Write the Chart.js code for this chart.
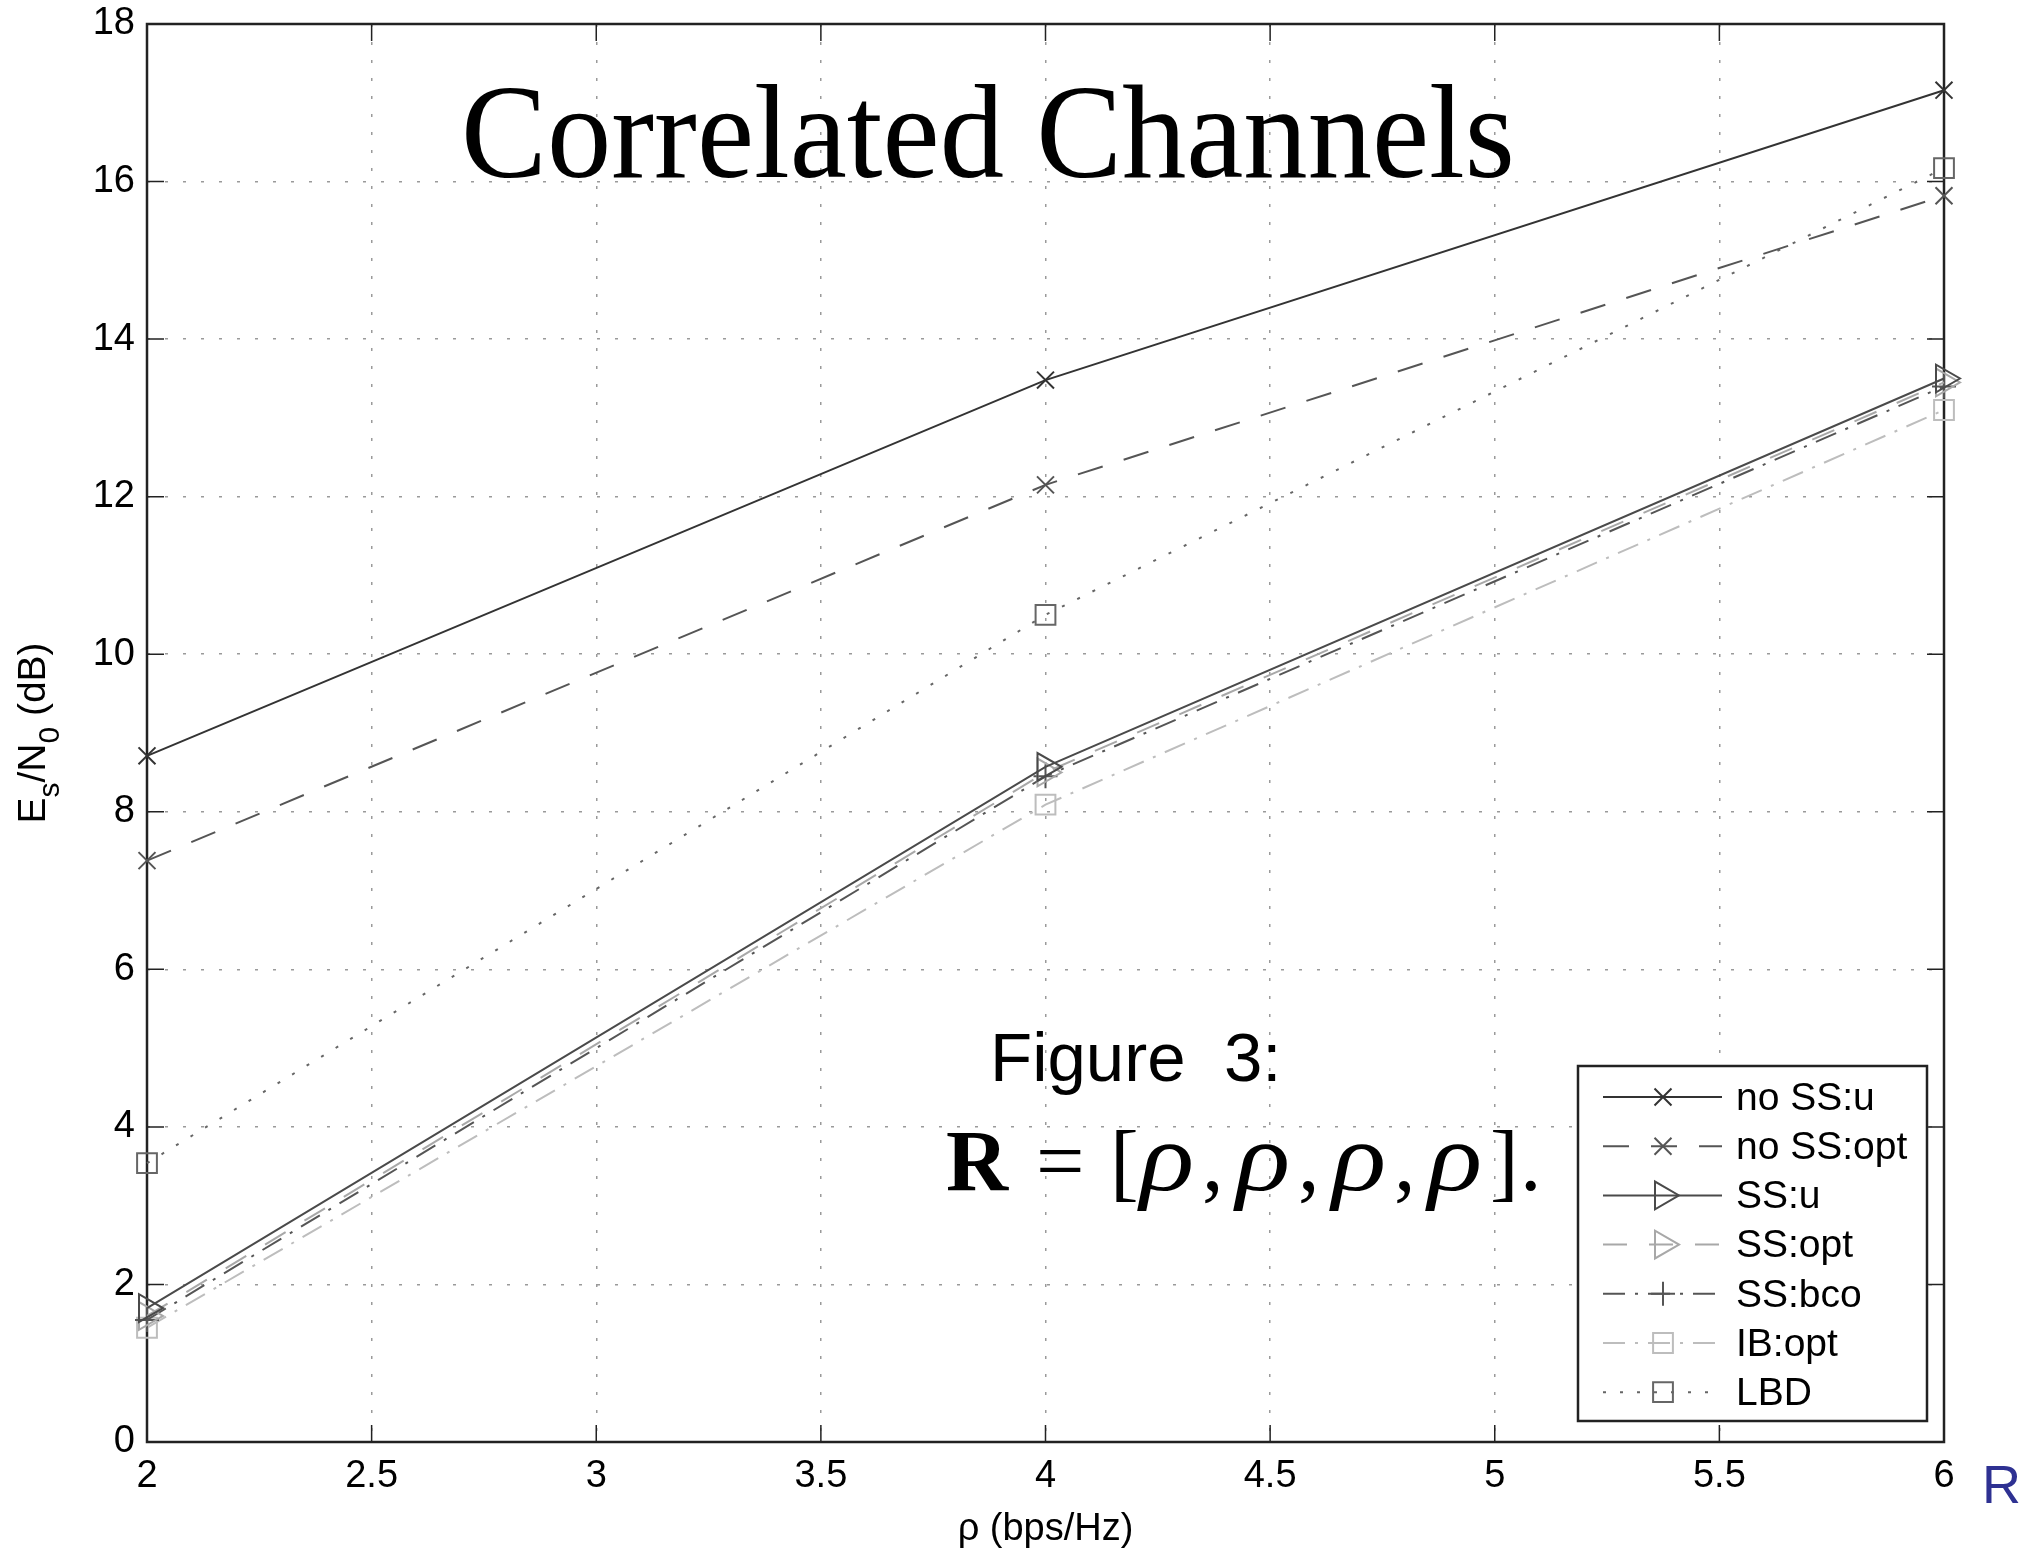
<!DOCTYPE html>
<html>
<head>
<meta charset="utf-8">
<script src="https://cdn.jsdelivr.net/npm/chart.js@4.4.0/dist/chart.umd.min.js"></script>
<style>
  html, body { margin: 0; padding: 0; background: #fff; }
  #wrap { width: 2031px; height: 1552px; }
</style>
</head>
<body>
<div id="wrap"><canvas id="myChart" width="2031" height="1552"></canvas></div>
<script>
// rate points (bps/Hz) and Es/N0 values (dB)
const rates = [2, 4, 6];
const noSSu = [8.71, 13.48, 17.16];
const noSSopt = [7.38, 12.15, 15.82];
const SSu = [1.70, 8.57, 13.50];
const SSopt = [1.60, 8.50, 13.45];
const SSbco = [1.55, 8.45, 13.40];
const IBopt = [1.45, 8.09, 13.10];
const LBD = [3.54, 10.50, 16.17];

const xTicks = [2, 2.5, 3, 3.5, 4, 4.5, 5, 5.5, 6];
const yTicks = [0, 2, 4, 6, 8, 10, 12, 14, 16, 18];

const SANS = '"Liberation Sans", Arial, sans-serif';
const SERIF = '"Liberation Serif", "Times New Roman", serif';

function pts(values) {
    return rates.map((x, i) => ({ x: x, y: values[i] }));
}

function series(label, values, color, dash, pointStyle, radius, rotation) {
    return {
        label: label,
        data: pts(values),
        borderColor: color,
        backgroundColor: color,
        borderWidth: 2,
        borderDash: dash,
        fill: false,
        tension: 0,
        clip: false,
        pointStyle: pointStyle,
        pointRadius: radius,
        pointRotation: rotation,
        pointBorderColor: color,
        pointBackgroundColor: 'rgba(0,0,0,0)',
        pointBorderWidth: 2,
        pointHoverRadius: radius
    };
}

const data = {
    datasets: [
        series('no SS:u', noSSu, '#333333', [], 'crossRot', 12, 0),
        series('no SS:opt', noSSopt, '#555555', [26, 22], 'crossRot', 12, 0),
        series('SS:u', SSu, '#4a4a4a', [], 'triangle', 16, 90),
        series('SS:opt', SSopt, '#a8a8a8', [24, 22], 'triangle', 16, 90),
        series('SS:bco', SSbco, '#555555', [22, 10, 3, 10], 'cross', 12, 0),
        series('IB:opt', IBopt, '#bdbdbd', [22, 10, 3, 10], 'rect', 14, 0),
        series('LBD', LBD, '#666666', [3, 14], 'rect', 14, 0)
    ]
};

// box, inner tick marks (matlab style)
const boxPlugin = {
    id: 'box',
    beforeDatasetsDraw(chart) {
        const { ctx, chartArea: a, scales } = chart;
        ctx.save();
        ctx.strokeStyle = '#222';
        ctx.lineWidth = 1.5;
        ctx.setLineDash([]);
        const tl = 17;
        ctx.beginPath();
        xTicks.forEach(v => {
            const px = scales.x.getPixelForValue(v);
            ctx.moveTo(px, a.bottom); ctx.lineTo(px, a.bottom - tl);
            ctx.moveTo(px, a.top); ctx.lineTo(px, a.top + tl);
        });
        yTicks.forEach(v => {
            const py = scales.y.getPixelForValue(v);
            ctx.moveTo(a.left, py); ctx.lineTo(a.left + tl, py);
            ctx.moveTo(a.right, py); ctx.lineTo(a.right - tl, py);
        });
        ctx.stroke();
        ctx.lineWidth = 2.5;
        ctx.strokeRect(a.left, a.top, a.right - a.left, a.bottom - a.top);
        ctx.restore();
    }
};

// legend with line samples, titles and slide annotations
const annotPlugin = {
    id: 'annot',
    afterDraw(chart) {
        const { ctx, chartArea: a } = chart;
        ctx.save();

        // legend
        const lx = 1578, ly = 1066, lw = 349, lh = 355;
        ctx.fillStyle = '#fff';
        ctx.fillRect(lx, ly, lw, lh);
        ctx.strokeStyle = '#222';
        ctx.lineWidth = 2.5;
        ctx.setLineDash([]);
        ctx.strokeRect(lx, ly, lw, lh);
        chart.data.datasets.forEach((ds, i) => {
            const y = 1097 + i * 49.2;
            ctx.save();
            ctx.strokeStyle = ds.borderColor;
            ctx.lineWidth = ds.borderWidth;
            ctx.setLineDash(ds.borderDash);
            ctx.beginPath();
            ctx.moveTo(1603, y);
            ctx.lineTo(1722, y);
            ctx.stroke();
            ctx.setLineDash([]);
            ctx.fillStyle = 'rgba(0,0,0,0)';
            ctx.lineWidth = ds.pointBorderWidth;
            Chart.helpers.drawPoint(ctx, {
                pointStyle: ds.pointStyle,
                rotation: ds.pointRotation,
                radius: ds.pointRadius,
                borderWidth: ds.pointBorderWidth
            }, 1663, y);
            ctx.restore();
            ctx.fillStyle = '#000';
            ctx.font = '39px ' + SANS;
            ctx.textAlign = 'left';
            ctx.textBaseline = 'middle';
            ctx.fillText(ds.label, 1736, y + 2);
        });

        // y title with subscripts
        ctx.save();
        ctx.translate(45, 733);
        ctx.rotate(-Math.PI / 2);
        ctx.fillStyle = '#000';
        ctx.textBaseline = 'alphabetic';
        ctx.textAlign = 'left';
        const big = '39px ' + SANS, small = '30px ' + SANS;
        const parts = [['E', big, 0], ['s', small, 14], ['/N', big, 0], ['0', small, 14], [' (dB)', big, 0]];
        let tot = 0;
        parts.forEach(p => { ctx.font = p[1]; tot += ctx.measureText(p[0]).width; });
        let cx = -tot / 2;
        parts.forEach(p => {
            ctx.font = p[1];
            ctx.fillText(p[0], cx, p[2]);
            cx += ctx.measureText(p[0]).width;
        });
        ctx.restore();

        // x title
        ctx.fillStyle = '#000';
        ctx.font = '38px ' + SANS;
        ctx.textAlign = 'center';
        ctx.textBaseline = 'middle';
        ctx.fillText('\u03C1 (bps/Hz)', (a.left + a.right) / 2, 1530);

        // slide title
        ctx.save();
        ctx.translate(988, 177);
        ctx.scale(0.96, 1);
        ctx.font = '134px ' + SERIF;
        ctx.textAlign = 'center';
        ctx.textBaseline = 'alphabetic';
        ctx.fillText('Correlated Channels', 0, 0);
        ctx.restore();

        // figure caption
        ctx.textAlign = 'left';
        ctx.textBaseline = 'alphabetic';
        ctx.font = '69px ' + SANS;
        ctx.fillText('Figure  3:', 990, 1081);

        const fy = 1190;
        ctx.font = 'bold 86px ' + SERIF;
        ctx.fillText('R', 946, fy);
        ctx.font = '86px ' + SERIF;
        ctx.fillText('=', 1036, fy);
        ctx.fillText('[', 1110, fy);
        const rhoX = [1140, 1236, 1332, 1428];
        rhoX.forEach(x => {
            ctx.save();
            ctx.translate(x, fy);
            ctx.scale(1.15, 1);
            ctx.font = 'italic 98px ' + SERIF;
            ctx.fillText('\u03C1', 0, 0);
            ctx.restore();
        });
        ctx.font = '86px ' + SERIF;
        rhoX.slice(0, 3).forEach(x => ctx.fillText(',', x + 62, fy));
        ctx.fillText(']', 1490, fy);
        ctx.fillText('.', 1520, fy);

        // blue R next to the x axis
        ctx.fillStyle = '#2e3192';
        ctx.font = '54px ' + SANS;
        ctx.fillText('R', 1982, 1503);

        ctx.restore();
    }
};

const config = {
    type: 'line',
    data: data,
    options: {
        responsive: false,
        animation: false,
        devicePixelRatio: 1,
        layout: { padding: { top: 24, right: 87, left: 0, bottom: 0 } },
        plugins: {
            legend: { display: false },
            tooltip: { enabled: false }
        },
        scales: {
            x: {
                type: 'linear',
                min: 2,
                max: 6,
                afterBuildTicks: s => { s.ticks = xTicks.map(v => ({ value: v })); },
                afterFit: s => { s.height = 110; s.paddingLeft = 0; s.paddingRight = 0; },
                ticks: {
                    font: { family: SANS, size: 38 },
                    color: '#000',
                    padding: 12,
                    maxRotation: 0,
                    callback: v => String(v)
                },
                grid: { color: '#9a9a9a', lineWidth: 1.5, drawTicks: false },
                border: { display: false, dash: [3, 15] }
            },
            y: {
                min: 0,
                max: 18,
                afterBuildTicks: s => { s.ticks = yTicks.map(v => ({ value: v })); },
                afterFit: s => { s.width = 147; s.paddingTop = 0; s.paddingBottom = 0; },
                ticks: {
                    font: { family: SANS, size: 38 },
                    color: '#000',
                    padding: 12,
                    callback: v => String(v)
                },
                grid: { color: '#9a9a9a', lineWidth: 1.5, drawTicks: false },
                border: { display: false, dash: [3, 15] }
            }
        }
    },
    plugins: [boxPlugin, annotPlugin]
};

const myChart = new Chart(document.getElementById('myChart').getContext('2d'), config);
</script>
</body>
</html>
